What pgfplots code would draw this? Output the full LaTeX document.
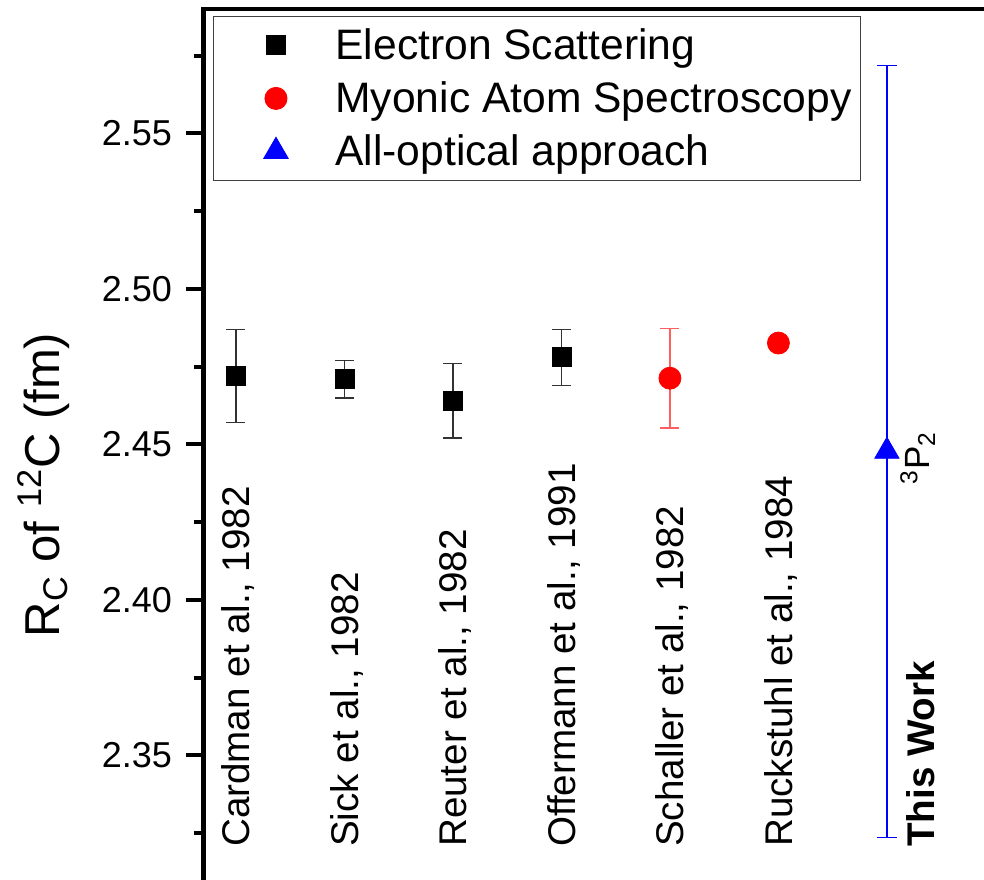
\documentclass[border=0pt]{standalone}
\usepackage{pgfplots}
\pgfplotsset{compat=1.18}
\usepackage{fontspec}
\setmainfont{Liberation Sans}
\definecolor{errred}{RGB}{255,95,95}
\definecolor{errgray}{RGB}{50,50,50}
\tikzset{cat/.style={rotate=90, anchor=west, inner sep=0pt, text height=13.9pt, text depth=0pt, font=\fontsize{19.3}{22}\selectfont}}
\begin{document}
\begin{tikzpicture}
\useasboundingbox (-101.7pt,-435pt) rectangle (390.3pt,4.5pt);
\clip (-101.7pt,-435pt) rectangle (390.3pt,4.5pt);
\begin{axis}[
  at={(0pt,0pt)}, anchor=north west,
  scale only axis, width=396pt, height=451pt,
  xmin=0.7, xmax=8, ymin=2.30, ymax=2.59,
  xtick=\empty,
  ytick={2.35,2.40,2.45,2.50,2.55},
  minor ytick={2.325,2.375,2.425,2.475,2.525,2.575},
  tick align=outside, ytick pos=left,
  major tick length=8.5pt, minor tick length=4.5pt,
  every tick/.style={black, line width=2pt},
  axis line style={line width=2.3pt},
  /pgf/number format/assume math mode=true,
  yticklabel style={font=\fontsize{18}{20}\selectfont, inner xsep=0pt, xshift=-7pt,
    /pgf/number format/fixed, /pgf/number format/fixed zerofill, /pgf/number format/precision=2},
  clip=false,
  legend cell align=left,
  legend style={at={(0.0121,0.9922)}, anchor=north west, draw=black!75, line width=0.5pt,
    inner xsep=4.5pt, inner ysep=1.2pt, font=\fontsize{21.3}{24}\selectfont,
    nodes={inner sep=0pt, text height=20.5pt, text depth=6pt},
    row sep=0pt, column sep=9pt},
  legend image code/.code={\path (0pt,0pt) (47pt,0pt); \draw[#1] plot coordinates {(26.5pt,0pt)};},
]
\addplot[only marks, mark=square*, mark size=4.75pt, black,
  error bars/.cd, y dir=both, y explicit,
  error bar style={errgray, line width=0.8pt},
  error mark options={errgray, line width=0.8pt, mark size=4.75pt, rotate=90}]
  coordinates {
    (1,2.472) +- (0,0.015)
    (2,2.471) +- (0,0.006)
    (3,2.464) +- (0,0.012)
    (4,2.478) +- (0,0.009)
  };
\addlegendentry{Electron Scattering}
\addplot[only marks, mark=*, mark size=5.5pt, red,
  error bars/.cd, y dir=both, y explicit,
  error bar style={errred, line width=0.8pt},
  error mark options={errred, line width=0.8pt, mark size=4.75pt, rotate=90}]
  coordinates {
    (5,2.4713) +- (0,0.016)
    (6,2.4826) +- (0,0)
  };
\addlegendentry{Myonic Atom Spectroscopy}
\addplot[only marks, mark=triangle*, mark size=7pt, blue,
  error bars/.cd, y dir=both, y explicit,
  error bar style={blue, line width=0.7pt},
  error mark options={blue, line width=0.7pt, mark size=5pt, rotate=90}]
  coordinates {
    (7,2.4478) +- (0,0.1241)
  };
\addlegendentry{All-optical approach}

\node[cat] at (axis cs:1,2.3205) {Cardman et al., 1982};
\node[cat] at (axis cs:2,2.3205) {Sick et al., 1982};
\node[cat] at (axis cs:3,2.3205) {Reuter et al., 1982};
\node[cat] at (axis cs:4,2.3205) {Offermann et al., 1991};
\node[cat] at (axis cs:5,2.3205) {Schaller et al., 1982};
\node[cat] at (axis cs:6,2.3205) {Ruckstuhl et al., 1984};
\node[cat, font=\fontsize{19.3}{22}\selectfont\bfseries] at ([xshift=17pt]axis cs:7,2.3205) {This Work};
\node[rotate=90, anchor=base west, inner sep=0pt, font=\fontsize{17.5}{20}\selectfont]
  at ([xshift=21.5pt]axis cs:7,2.437) {\textsuperscript{3}P\textsubscript{2}};
\node[rotate=90, anchor=base, inner sep=0pt, font=\fontsize{24.5}{28}\selectfont]
  at ([xshift=-71.7pt]axis cs:0.7,2.437) {R\textsubscript{C} of \textsuperscript{12}C (fm)};
\end{axis}
\end{tikzpicture}
\end{document}
